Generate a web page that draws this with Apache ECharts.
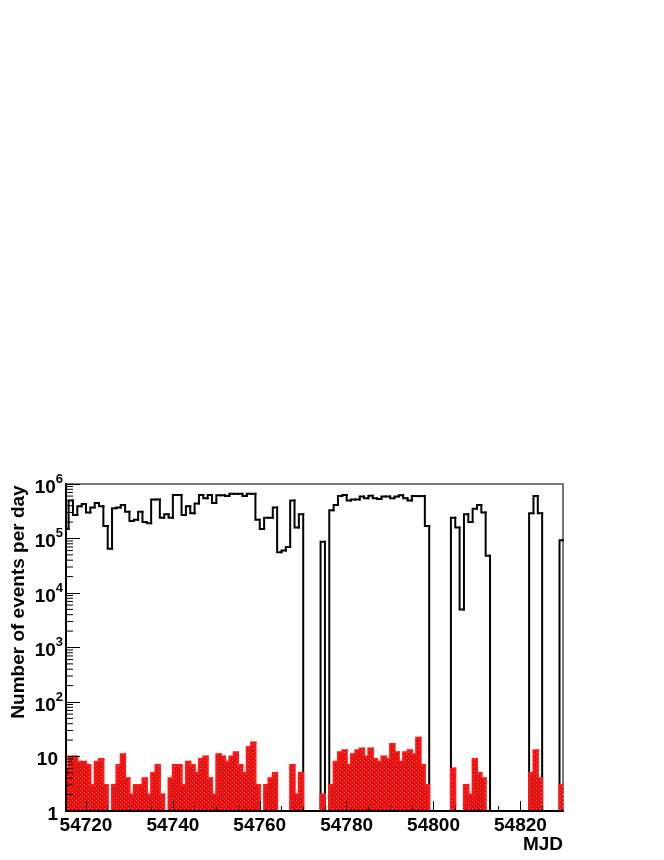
<!DOCTYPE html>
<html><head><meta charset="utf-8">
<script src="https://cdn.jsdelivr.net/npm/echarts@6/dist/echarts.min.js"></script>
<style>html,body{margin:0;padding:0;background:#fff}#c{width:664px;height:860px}</style>
</head><body><div id="c"></div>
<script>
// ---- data (one bin per day, first bin starts at firstDay) ----
const firstDay = 54715;
const allEvents = [
  1.5e5, 5.0e5, 2.7e5, 3.9e5, 4.3e5, 3.0e5, 3.7e5, 4.5e5, 3.9e5, 1.7e5,   // 54715-54724
  6.5e4, 3.6e5, 3.7e5, 4.1e5, 3.1e5, 2.1e5, 2.2e5, 3.1e5, 2.0e5, 1.9e5,   // 54725-54734
  5.2e5, 5.2e5, 2.4e5, 2.8e5, 2.4e5, 6.3e5, 6.3e5, 2.7e5, 3.9e5, 2.9e5,   // 54735-54744
  4.4e5, 6.3e5, 5.5e5, 6.3e5, 4.5e5, 6.2e5, 6.2e5, 6.0e5, 6.6e5, 6.6e5,   // 54745-54754
  6.6e5, 6.0e5, 6.6e5, 6.6e5, 2.2e5, 1.5e5, 2.4e5, 2.4e5, 3.7e5, 5.6e4,   // 54755-54764
  6.0e4, 7.0e4, 5.0e5, 1.6e5, 2.8e5, 0, 0, 0, 0, 8.7e4,                   // 54765-54774
  0, 3.3e5, 4.1e5, 6.0e5, 6.3e5, 5.0e5, 5.2e5, 5.2e5, 5.9e5, 5.5e5,       // 54775-54784
  6.1e5, 5.5e5, 5.3e5, 5.9e5, 5.9e5, 5.5e5, 5.9e5, 6.2e5, 5.5e5, 5.0e5,   // 54785-54794
  6.0e5, 6.0e5, 6.0e5, 1.7e5, 0, 0, 0, 0, 0, 2.4e5,                       // 54795-54804
  1.6e5, 5.0e3, 2.8e5, 2.0e5, 3.5e5, 4.1e5, 3.0e5, 4.8e4, 0, 0,           // 54805-54814
  0, 0, 0, 0, 0, 0, 0, 2.9e5, 6.0e5, 2.9e5,                               // 54815-54824
  0, 0, 0, 0, 9.3e4                                                       // 54825-54829
];
const selectedEvents = [
  6, 10, 10, 8, 8, 7, 3, 8, 9, 3,        // 54715-54724
  0, 3, 7, 11, 4, 2, 3, 3, 4, 2,         // 54725-54734
  5, 7, 2, 0, 4, 7, 7, 3, 8, 7,          // 54735-54744
  5, 9, 10, 4, 2, 11, 10, 8, 10, 12,     // 54745-54754
  7, 5, 15, 18, 3, 0, 3, 4, 5, 0,        // 54755-54764
  0, 0, 7, 2, 5, 0, 0, 0, 0, 2,          // 54765-54774
  0, 3, 8, 12, 13, 7, 11, 13, 14, 10,    // 54775-54784
  14, 9, 8, 10, 9, 17, 12, 8, 12, 13,    // 54785-54794
  11, 22, 7, 3, 0, 0, 0, 0, 0, 6,        // 54795-54804
  0, 0, 3, 2, 9, 5, 4, 0, 0, 0,          // 54805-54814
  0, 0, 0, 0, 0, 0, 0, 5, 13, 4,         // 54815-54824
  0, 0, 0, 0, 3                          // 54825-54829
];
const xMin = 54715.4, xMax = 54829.8;
const xMajorTicks = [54720, 54740, 54760, 54780, 54800, 54820];
const xMinorTicks = [54720, 54725, 54730, 54735, 54740, 54745, 54750, 54755, 54760, 54765, 54770,
  54775, 54780, 54785, 54790, 54795, 54800, 54805, 54810, 54815, 54820, 54825];
const yMin = 1, yMax = 1e6;
const yMinorTicks = [2,3,4,5,6,7,8,9, 20,30,40,50,60,70,80,90, 200,300,400,500,600,700,800,900,
  2000,3000,4000,5000,6000,7000,8000,9000, 2e4,3e4,4e4,5e4,6e4,7e4,8e4,9e4,
  2e5,3e5,4e5,5e5,6e5,7e5,8e5,9e5];
const xTitle = 'MJD';
const yTitle = 'Number of events per day';

// ---- rendering ----
const FONT = "'Liberation Sans', Arial, Helvetica, sans-serif";
const pc = document.createElement('canvas'); pc.width = 4; pc.height = 4;
const g = pc.getContext('2d');
g.fillStyle = '#ff0000'; g.fillRect(0, 0, 4, 4);
g.fillStyle = '#ff7a7a'; g.fillRect(0, 0, 1, 1); g.fillRect(2, 2, 1, 1);
const redPattern = {image: pc, repeat: 'repeat'};

function toBins(arr) {
  return arr.map((v, i) => [firstDay + i, firstDay + i + 1, v, i > 0 ? arr[i - 1] : v]);
}
function stepGeom(api) {
  const x0 = Math.max(api.value(0), xMin), x1 = Math.min(api.value(1), xMax);
  if (x1 <= x0) return null;
  const v = Math.max(api.value(2), yMin), vp = Math.max(api.value(3), yMin);
  return {
    a: api.coord([x0, vp]), b: api.coord([x0, v]), c: api.coord([x1, v]),
    base: api.coord([x0, yMin]), v: api.value(2), last: api.value(1) >= xMax
  };
}

const chart = echarts.init(document.getElementById('c'), null, {renderer: 'canvas'});
chart.setOption({
  animation: false,
  backgroundColor: '#fff',
  grid: {left: 66, right: 101, top: 484, bottom: 49, show: true, borderColor: '#777', borderWidth: 2,
         containLabel: false, outerBoundsMode: 'none'},
  xAxis: [{
    type: 'value', min: xMin, max: xMax, z: 6,
    axisLine: {show: true, onZero: false, lineStyle: {color: '#000', width: 2}},
    axisTick: {show: true, inside: true, length: 10, customValues: xMajorTicks, lineStyle: {color: '#000', width: 1}},
    axisLabel: {show: true, customValues: xMajorTicks, margin: 5, color: '#000', fontSize: 19, fontWeight: 'bold', fontFamily: FONT,
                formatter: v => String(Math.round(v))},
    splitLine: {show: false}
  }, {
    type: 'value', min: xMin, max: xMax, z: 6, position: 'bottom',
    axisLine: {show: false},
    axisTick: {show: true, inside: true, length: 5, customValues: xMinorTicks, lineStyle: {color: '#000', width: 1}},
    axisLabel: {show: false},
    splitLine: {show: false}
  }],
  yAxis: {
    type: 'log', logBase: 10, min: yMin, max: yMax, splitNumber: 6, z: 6,
    axisLine: {show: true, lineStyle: {color: '#000', width: 2}},
    axisTick: {show: true, inside: true, length: 14, lineStyle: {color: '#000', width: 1}},
    splitLine: {show: false},
    axisLabel: {
      margin: 3, padding: [7, 0, 0, 0],
      formatter: v => {
        const e = Math.round(Math.log10(v));
        if (e === 0) return '{b|1}{p| }';
        if (e === 1) return '{b|10}{p| }';
        return '{b|10}{s|' + e + '}';
      },
      rich: {
        b: {fontSize: 19, fontWeight: 'bold', fontFamily: FONT, color: '#000', lineHeight: 30},
        s: {fontSize: 13, fontWeight: 'bold', fontFamily: FONT, color: '#000', verticalAlign: 'top', lineHeight: 13},
        p: {width: 5, fontSize: 13, lineHeight: 13}
      }
    }
  },
  graphic: [
    {type: 'text', x: 19, y: 602, rotation: Math.PI / 2, silent: true,
     style: {text: yTitle, fontSize: 19, fontWeight: 'bold', fontFamily: FONT, fill: '#000',
             textAlign: 'center', textVerticalAlign: 'middle', align: 'center', verticalAlign: 'middle'}},
    {type: 'text', x: 563, y: 845, silent: true,
     style: {text: xTitle, fontSize: 19, fontWeight: 'bold', fontFamily: FONT, fill: '#000',
             textAlign: 'right', textVerticalAlign: 'middle', align: 'right', verticalAlign: 'middle'}}
  ],
  series: [{
    type: 'custom', name: 'all', z: 2,
    encode: {x: [0, 1], y: [2, 3]},
    data: toBins(allEvents),
    renderItem: (params, api) => {
      const s = stepGeom(api); if (!s) return;
      return {type: 'polyline', silent: true, shape: {points: [s.a, s.b, s.c]},
              style: {stroke: '#000', lineWidth: 2, fill: null, lineCap: 'square', lineJoin: 'miter'}};
    }
  }, {
    type: 'custom', name: 'selected', z: 3,
    encode: {x: [0, 1], y: [2, 3]},
    data: toBins(selectedEvents),
    renderItem: (params, api) => {
      const s = stepGeom(api); if (!s) return;
      const children = [];
      if (s.v > yMin) {
        const w = s.c[0] - s.b[0] + (s.last ? 0 : 0.8);
        children.push({type: 'rect', silent: true,
          shape: {x: s.b[0], y: s.b[1], width: w, height: s.base[1] - s.b[1]},
          style: {fill: redPattern}});
      }
      children.push({type: 'polyline', silent: true, shape: {points: [s.a, s.b, s.c]},
        style: {stroke: '#ff1a1a', lineWidth: 2, fill: null, lineCap: 'square', lineJoin: 'miter'}});
      return {type: 'group', children: children};
    }
  }, {
    type: 'custom', name: 'yminor', z: 5,
    encode: {x: 0, y: 1},
    data: yMinorTicks.map(v => [xMin, v]),
    renderItem: (params, api) => {
      const p = api.coord([api.value(0), api.value(1)]);
      return {type: 'line', silent: true, shape: {x1: p[0], y1: p[1], x2: p[0] + 7, y2: p[1]},
              style: {stroke: '#000', lineWidth: 1}};
    }
  }]
});
</script></body></html>
